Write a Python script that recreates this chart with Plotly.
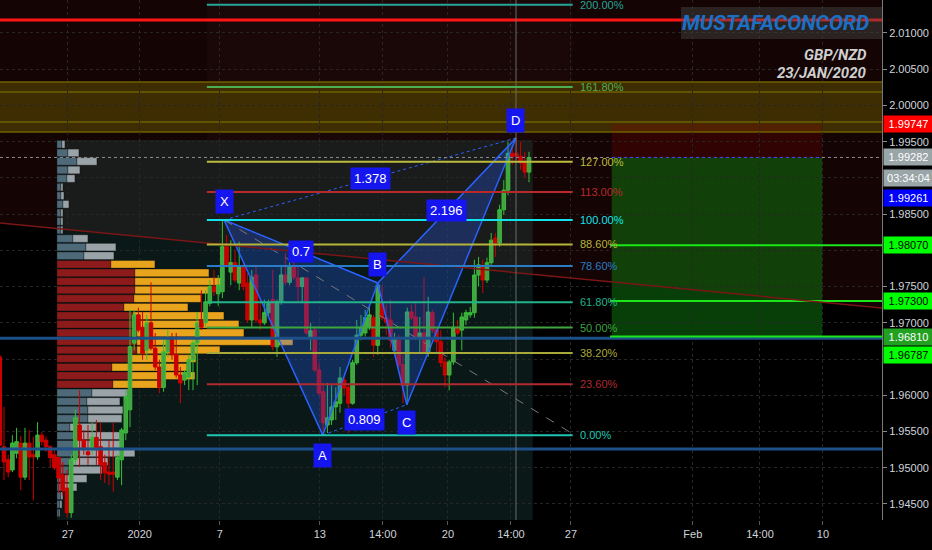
import plotly.graph_objects as go

# ---------------- data ----------------
x_tick_pos = [16.2, 33.3, 52.4, 76.2, 91.2, 106.7, 121.7, 136.0, 165.0, 181.0, 196.0]
x_tick_text = ['27', '2020', '7', '13', '14:00', '20', '14:00', '27', 'Feb', '14:00', '10']
price_ticks = [1.945, 1.950, 1.955, 1.960, 1.970, 1.975, 1.985,
               1.995, 2.000, 2.005, 2.010]
hidden_price_ticks = [1.965, 1.980, 1.990]

opens = [1.9653, 1.9529, 1.9511, 1.9497, 1.9520, 1.9534, 1.9487, 1.9534, 1.9518, 1.9515,
         1.9545, 1.9538, 1.9529, 1.9518, 1.9514, 1.9490, 1.9472, 1.9438, 1.9511, 1.9559,
         1.9538, 1.9522, 1.9525, 1.9542, 1.9529, 1.9507, 1.9494, 1.9494, 1.9487, 1.9511,
         1.9548, 1.9580, 1.9672, 1.9711, 1.9694, 1.9662, 1.9700, 1.9665, 1.9639, 1.9611,
         1.9660, 1.9679, 1.9656, 1.9628, 1.9621, 1.9625, 1.9649, 1.9672, 1.9704, 1.9700,
         1.9727, 1.9750, 1.9740, 1.9743, 1.9805, 1.9770, 1.9783, 1.9755, 1.9777, 1.9755,
         1.9704, 1.9766, 1.9704, 1.9700, 1.9714, 1.9732, 1.9667, 1.9729, 1.9766, 1.9756,
         1.9777, 1.9762, 1.9750, 1.9762, 1.9679, 1.9690, 1.9635, 1.9605, 1.9559, 1.9566,
         1.9584, 1.9589, 1.9621, 1.9611, 1.9589, 1.9645, 1.9683, 1.9686, 1.9694, 1.9707,
         1.9669, 1.9727, 1.9707, 1.9704, 1.9662, 1.9676, 1.9642, 1.9614, 1.9715, 1.9708,
         1.9680, 1.9686, 1.9660, 1.9714, 1.9690, 1.9674, 1.9646, 1.9628, 1.9646, 1.9694,
         1.9690, 1.9704, 1.9711, 1.9714, 1.9766, 1.9777, 1.9759, 1.9783, 1.9817, 1.9810,
         1.9856, 1.9883, 1.9934, 1.9934, 1.9930, 1.9922, 1.9908]
highs = [1.9656, 1.9584, 1.9518, 1.9545, 1.9555, 1.9544, 1.9555, 1.9552, 1.9543, 1.9563,
         1.9549, 1.9543, 1.9531, 1.9524, 1.9515, 1.9508, 1.9497, 1.9518, 1.9580, 1.9607,
         1.9552, 1.9559, 1.9562, 1.9566, 1.9562, 1.9518, 1.9538, 1.9562, 1.9518, 1.9555,
         1.9607, 1.9718, 1.9718, 1.9721, 1.9715, 1.9711, 1.9756, 1.9686, 1.9649, 1.9676,
         1.9690, 1.9686, 1.9686, 1.9639, 1.9635, 1.9656, 1.9676, 1.9715, 1.9745, 1.9745,
         1.9759, 1.9773, 1.9766, 1.9842, 1.9821, 1.9814, 1.9801, 1.9812, 1.9784, 1.9769,
         1.9773, 1.9780, 1.9732, 1.9732, 1.9732, 1.9773, 1.9732, 1.9780, 1.9796, 1.9793,
         1.9791, 1.9777, 1.9763, 1.9763, 1.9700, 1.9694, 1.9645, 1.9617, 1.9617, 1.9614,
         1.9611, 1.9639, 1.9625, 1.9614, 1.9649, 1.9704, 1.9711, 1.9718, 1.9725, 1.9711,
         1.9755, 1.9752, 1.9725, 1.9732, 1.9686, 1.9683, 1.9656, 1.9721, 1.9725, 1.9727,
         1.9708, 1.9763, 1.9736, 1.9718, 1.9694, 1.9690, 1.9652, 1.9649, 1.9714, 1.9704,
         1.9714, 1.9718, 1.9722, 1.9787, 1.9791, 1.9787, 1.9790, 1.9824, 1.9824, 1.9863,
         1.9897, 1.9950, 1.9945, 1.9955, 1.9950, 1.9936, 1.9936]
lows = [1.9529, 1.9483, 1.9487, 1.9494, 1.9513, 1.9469, 1.9483, 1.9483, 1.9455, 1.9511,
        1.9531, 1.9522, 1.9501, 1.9497, 1.9465, 1.9462, 1.9432, 1.9431, 1.9504, 1.9501,
        1.9518, 1.9504, 1.9518, 1.9504, 1.9483, 1.9479, 1.9476, 1.9467, 1.9483, 1.9476,
        1.9538, 1.9556, 1.9662, 1.9687, 1.9649, 1.9649, 1.9662, 1.9635, 1.9603, 1.9605,
        1.9653, 1.9649, 1.9624, 1.9589, 1.9614, 1.9607, 1.9607, 1.9614, 1.9690, 1.9694,
        1.9723, 1.9737, 1.9723, 1.9734, 1.9776, 1.9752, 1.9756, 1.9745, 1.9745, 1.9700,
        1.9694, 1.9700, 1.9690, 1.9697, 1.9709, 1.9662, 1.9653, 1.9725, 1.9752, 1.9752,
        1.9759, 1.9727, 1.9727, 1.9683, 1.9662, 1.9632, 1.9600, 1.9545, 1.9548, 1.9559,
        1.9566, 1.9576, 1.9600, 1.9548, 1.9587, 1.9642, 1.9676, 1.9681, 1.9690, 1.9653,
        1.9656, 1.9704, 1.9683, 1.9665, 1.9656, 1.9638, 1.9589, 1.9587, 1.9704, 1.9676,
        1.9658, 1.9658, 1.9653, 1.9686, 1.9658, 1.9639, 1.9611, 1.9607, 1.9642, 1.9683,
        1.9662, 1.9697, 1.9707, 1.9707, 1.9750, 1.9741, 1.9755, 1.9780, 1.9791, 1.9805,
        1.9849, 1.9876, 1.9918, 1.9925, 1.9911, 1.9900, 1.9894]
closes = [1.9531, 1.9508, 1.9494, 1.9534, 1.9536, 1.9487, 1.9534, 1.9515, 1.9515, 1.9545,
          1.9536, 1.9529, 1.9514, 1.9500, 1.9486, 1.9469, 1.9438, 1.9511, 1.9569, 1.9538,
          1.9525, 1.9518, 1.9542, 1.9525, 1.9504, 1.9493, 1.9491, 1.9491, 1.9514, 1.9552,
          1.9598, 1.9667, 1.9711, 1.9690, 1.9658, 1.9700, 1.9665, 1.9639, 1.9611, 1.9660,
          1.9679, 1.9656, 1.9628, 1.9617, 1.9631, 1.9649, 1.9672, 1.9700, 1.9694, 1.9729,
          1.9750, 1.9743, 1.9752, 1.9805, 1.9780, 1.9783, 1.9759, 1.9777, 1.9750, 1.9704,
          1.9763, 1.9704, 1.9700, 1.9714, 1.9727, 1.9667, 1.9729, 1.9766, 1.9756, 1.9777,
          1.9763, 1.9750, 1.9762, 1.9686, 1.9689, 1.9635, 1.9603, 1.9562, 1.9569, 1.9584,
          1.9591, 1.9624, 1.9610, 1.9589, 1.9645, 1.9683, 1.9694, 1.9707, 1.9711, 1.9669,
          1.9752, 1.9707, 1.9701, 1.9676, 1.9679, 1.9642, 1.9614, 1.9715, 1.9707, 1.9680,
          1.9686, 1.9660, 1.9715, 1.9690, 1.9674, 1.9645, 1.9628, 1.9646, 1.9694, 1.9686,
          1.9708, 1.9714, 1.9714, 1.9766, 1.9780, 1.9759, 1.9783, 1.9814, 1.9810, 1.9856,
          1.9883, 1.9934, 1.9929, 1.9930, 1.9921, 1.9908, 1.99282]

# volume profile rows (top row first)
vp_up = [5, 11, 20, 11, 10, 4, 4, 6, 4, 4, 4, 16, 29, 27, 54, 78, 78, 78, 77, 67,
         76, 80, 80, 80, 80, 71, 55, 73, 56, 35, 30, 31, 31, 13, 20, 20, 22, 14, 12, 8,
         6, 4, 3, 2]
vp_down = [3, 11, 20, 12, 8, 2, 3, 6, 2, 2, 2, 15, 30, 30, 44, 74, 86, 77, 67, 64,
           91, 102, 107, 156, 83, 68, 75, 65, 50, 36, 33, 35, 34, 27, 43, 45, 56, 37, 33, 22,
           14, 2, 2, 1]
VA_FIRST, VA_LAST = 14, 28
VP_TOP = 1.99523
VP_ROW = 0.001183

# fibonacci retracement
FIB_0, FIB_100 = 1.9545, 1.9842
fib_levels = [0.0, 0.236, 0.382, 0.5, 0.618, 0.786, 0.886, 1.0, 1.13, 1.27, 1.618, 2.0]
fib_labels = ['0.00%', '23.60%', '38.20%', '50.00%', '61.80%', '78.60%', '88.60%',
              '100.00%', '113.00%', '127.00%', '161.80%', '200.00%']
fib_colors = ['#1fc6b4', '#b02a30', '#a9a93a', '#3fa63f', '#22b48a', '#2a7cc7',
              '#b5b53a', '#12e3ea', '#b82a2a', '#bcbc3e', '#4caf50', '#26a69a']

# harmonic pattern XABCD
pat_names = ['X', 'A', 'B', 'C', 'D']
pat_x = [53.4, 76.9, 90.0, 96.9, 122.9]
pat_y = [1.9842, 1.9545, 1.9755, 1.9587, 1.9955]
ratio_text = ['0.7', '0.809', '1.378', '2.196']

# horizontal levels
RED_LEVEL = 2.01179
BAND = [2.00323, 2.00185, 1.99771, 1.99633]
CUR_PRICE = 1.99282
BLUE_LEVELS = [1.96787, 1.95260]
GREEN_LEVELS = [1.98070, 1.97300, 1.96810]
STOP, ENTRY, TARGET = 1.99747, 1.99282, 1.96810
TREND = (1.98378, 1.97205)

# ---------------- figure ----------------
X_LO, X_HI = 0.05, 210.05
Y_LO, Y_HI = 1.94279, 2.01455
FONT = "Liberation Sans, Arial, sans-serif"
GRID = '#262626'

fig = go.Figure()
shapes = []
ann = []

def rect(x0, x1, y0, y1, fill, layer='below', xref='x', yref='y'):
    shapes.append(dict(type='rect', x0=x0, x1=x1, y0=y0, y1=y1, xref=xref, yref=yref,
                       fillcolor=fill, line=dict(width=0), layer=layer))

def hline(y, x0, x1, color, width=1.5, dash='solid', layer='above'):
    shapes.append(dict(type='line', x0=x0, x1=x1, y0=y, y1=y, xref='x', yref='y',
                       line=dict(color=color, width=width, dash=dash), layer=layer))

# maroon zone above the trend line
shapes.append(dict(type='path', xref='x', yref='y', layer='below',
                   path=f"M {X_LO},{Y_HI} L {X_HI},{Y_HI} L {X_HI},{TREND[1]} L {X_LO},{TREND[0]} Z",
                   fillcolor='rgba(90,20,20,0.22)', line=dict(width=0)))
# volume profile range box
rect(13.6, 126.9, Y_LO, VP_TOP, 'rgba(50,110,110,0.22)')
# fib tool background (upper part)
rect(49.3, 136.4, VP_TOP, Y_HI, 'rgba(120,90,60,0.06)')
# yellow band
rect(X_LO, X_HI, BAND[3], BAND[0], 'rgba(112,94,0,0.45)')
# long position
rect(145.7, 195.8, TARGET, ENTRY, 'rgba(15,115,15,0.55)')
rect(145.7, 195.8, ENTRY, STOP, 'rgba(140,0,0,0.25)')

# volume profile bars
rows = list(range(len(vp_up)))
centers = [VP_TOP - (r + 0.5) * VP_ROW for r in rows]
up_w = [v / 4.2 for v in vp_up]
dn_w = [v / 4.2 for v in vp_down]
in_va = [VA_FIRST <= r <= VA_LAST for r in rows]
fig.add_trace(go.Bar(orientation='h', y=centers, x=up_w, base=[13.6] * len(rows),
                     width=VP_ROW * 0.88,
                     marker=dict(color=['#8e1b1b' if v else '#4e6a79' for v in in_va],
                                 line=dict(width=0.6, color='rgba(0,0,0,0.5)')),
                     hoverinfo='skip', showlegend=False))
fig.add_trace(go.Bar(orientation='h', y=centers, x=dn_w, base=[13.6 + w for w in up_w],
                     width=VP_ROW * 0.88,
                     marker=dict(color=['#e9a41d' if v else '#9aa3a8' for v in in_va],
                                 line=dict(width=0.6, color='rgba(0,0,0,0.5)')),
                     hoverinfo='skip', showlegend=False))

# candles
fig.add_trace(go.Candlestick(
    x=list(range(len(opens))), open=opens, high=highs, low=lows, close=closes,
    increasing=dict(fillcolor='#48a048', line=dict(color='#35c035', width=1)),
    decreasing=dict(fillcolor='#c80000', line=dict(color='#d00000', width=1)),
    whiskerwidth=0, hoverinfo='skip', showlegend=False))

# harmonic triangles
for idx in ([0, 1, 2, 0], [2, 3, 4, 2]):
    fig.add_trace(go.Scatter(x=[pat_x[i] for i in idx], y=[pat_y[i] for i in idx],
                             mode='lines', fill='toself',
                             fillcolor='rgba(41,98,255,0.28)',
                             line=dict(color='#2962ff', width=1.5),
                             hoverinfo='skip', showlegend=False))
pairs = [(0, 2), (1, 3), (0, 4), (2, 4)]
for (a, b), txt in zip(pairs, ratio_text):
    fig.add_trace(go.Scatter(x=[pat_x[a], pat_x[b]], y=[pat_y[a], pat_y[b]], mode='lines',
                             line=dict(color='#2962ff', width=1, dash='dot'),
                             hoverinfo='skip', showlegend=False))
    ann.append(dict(x=(pat_x[a] + pat_x[b]) / 2, y=(pat_y[a] + pat_y[b]) / 2, text=txt,
                    showarrow=False, bgcolor='#1515f0', borderpad=3,
                    font=dict(color='white', size=13, family=FONT)))
label_shift = [18, -20, 18, -18, 18]
for n, x, y, s in zip(pat_names, pat_x, pat_y, label_shift):
    ann.append(dict(x=x, y=y, text=n, showarrow=False, yshift=s, bgcolor='#1515f0',
                    borderpad=4, font=dict(color='white', size=13, family=FONT)))

# fib retracement diagonal
fig.add_trace(go.Scatter(x=[pat_x[0], 136.9], y=[FIB_100, FIB_0], mode='lines',
                         line=dict(color='#7a7a7a', width=1, dash='dash'),
                         hoverinfo='skip', showlegend=False))

# lines
hline(RED_LEVEL, X_LO, X_HI, '#ff1414', 3)
for b in BAND:
    hline(b, X_LO, X_HI, '#6e6100', 1.5, layer='below')
hline(CUR_PRICE, X_LO, X_HI, '#8c8c8c', 1, 'dot')
for b in BLUE_LEVELS:
    hline(b, X_LO, X_HI, '#1d5088', 3)
for g in GREEN_LEVELS:
    hline(g, 145.3, X_HI, '#1ae61a', 2)
hline(ENTRY, 145.7, 195.8, '#3a3aff', 1, 'dot')
shapes.append(dict(type='line', xref='x', yref='y', x0=X_LO, x1=X_HI, y0=TREND[0], y1=TREND[1],
                   line=dict(color='#7a1616', width=1.5), layer='above'))
shapes.append(dict(type='line', xref='x', yref='paper', x0=122.9, x1=122.9, y0=0, y1=1,
                   line=dict(color='#6a6a6a', width=1), layer='above'))

for lv, lab, col in zip(fib_levels, fib_labels, fib_colors):
    p = FIB_0 + lv * (FIB_100 - FIB_0)
    hline(p, 49.3, 136.4, col, 2)
    ann.append(dict(x=137.6, y=p, text=lab, showarrow=False, xanchor='left',
                    font=dict(color=col, size=11, family=FONT)))

# right-side price tags: (text, bg, fg, display price)
tags = [('1.99747', '#ff0000', 'white', 1.99747),
        ('1.99282', '#9aa5a8', 'white', 1.99282),
        ('03:34:04', '#9aa5a8', 'white', 1.98999),
        ('1.99261', '#0000ff', 'white', 1.98723),
        ('1.98070', '#00ff00', 'black', 1.98070),
        ('1.97300', '#00ff00', 'black', 1.97300),
        ('1.96810', '#22a022', 'white', 1.96810),
        ('1.96787', '#00ff00', 'black', 1.96556)]
for t, bg, fg, y in tags:
    ann.append(dict(xref='paper', x=1.0, xanchor='left', xshift=1, y=y, yref='y', text=t,
                    showarrow=False, bgcolor=bg, width=45, borderpad=2,
                    font=dict(color=fg, size=11, family=FONT)))

# watermark & titles
shapes.append(dict(type='rect', xref='paper', yref='paper', x0=681 / 882, x1=1.0,
                   y0=1 - 39 / 520, y1=1 - 7 / 520, fillcolor='rgba(70,70,70,0.45)',
                   line=dict(width=0), layer='above'))
ann.append(dict(xref='paper', yref='paper', x=775 / 882, y=1 - 23 / 520,
                xanchor='center', yanchor='middle',
                text='<b><i>MUSTAFACONCORD</i></b>', showarrow=False,
                font=dict(color='#1c70c4', size=21, family='Roboto, sans-serif')))
ann.append(dict(xref='paper', yref='paper', x=869 / 882, y=1 - 55 / 520,
                xanchor='right', yanchor='middle',
                text='<b><i>GBP/NZD</i></b>', showarrow=False,
                font=dict(color='#cfcfcf', size=15, family='Roboto, sans-serif')))
ann.append(dict(xref='paper', yref='paper', x=869 / 882, y=1 - 73 / 520,
                xanchor='right', yanchor='middle',
                text='<b><i>23/JAN/2020</i></b>', showarrow=False,
                font=dict(color='#cfcfcf', size=15, family='Roboto, sans-serif')))

fig.update_layout(
    width=932, height=550,
    margin=dict(l=0, r=50, t=0, b=30, autoexpand=False),
    paper_bgcolor='#000000', plot_bgcolor='#000000',
    barmode='overlay', boxgap=0.15, boxgroupgap=0, showlegend=False,
    shapes=shapes, annotations=ann,
    font=dict(family=FONT, color='#c9ccd4', size=11),
    xaxis=dict(range=[X_LO, X_HI], tickvals=x_tick_pos, ticktext=x_tick_text,
               showgrid=True, gridcolor=GRID, griddash='dot', gridwidth=1,
               zeroline=False, rangeslider=dict(visible=False), ticks='outside',
               ticklen=4, tickcolor='#555', tickfont=dict(color='#d1d4dc', size=11),
               showline=False),
    yaxis=dict(range=[Y_LO, Y_HI], side='right', tickvals=price_ticks, tickformat='.5f',
               showgrid=True, gridcolor=GRID, griddash='dot', gridwidth=1,
               zeroline=False, ticks='outside', ticklen=4, tickcolor='#888',
               tickfont=dict(color='#d1d4dc', size=11), showline=True,
               linecolor='#7a7a7a', linewidth=1,
               minor=dict(tickmode='array', tickvals=hidden_price_ticks, showgrid=True,
                          gridcolor=GRID, griddash='dot', ticks='')),
)

fig.write_html("out.html", config={'displayModeBar': False},
               post_script="document.body.style.margin='0px';document.body.style.background='#000';")
